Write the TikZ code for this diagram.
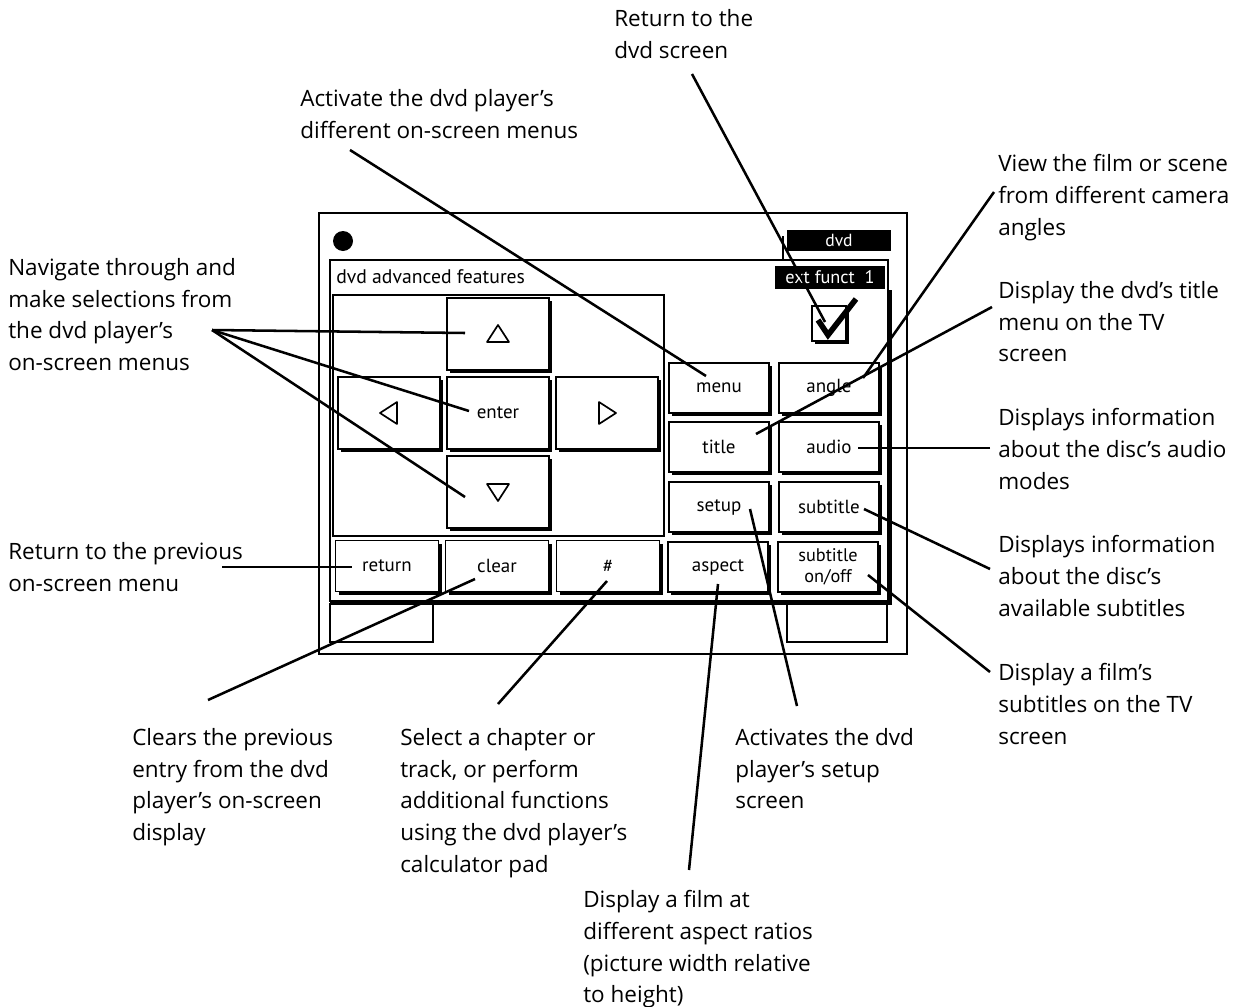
\documentclass[tikz,border=0pt]{standalone}
\usepackage{fontspec}
\setmainfont{Open Sans}
\newfontfamily\panelfont{PT Sans}
\usetikzlibrary{shadows}

\tikzset{
  note/.style={anchor=north west,align=left,inner sep=0pt,
    font=\fontsize{16}{22.6}\selectfont},
  lead/.style={line width=1.8pt},
  frame/.style={line width=0.9pt},
  btn/.style={draw,fill=white,line width=0.9pt,inner sep=0pt,
    minimum width=2.5cm,minimum height=1.25cm,align=center,
    font=\panelfont\fontsize{13.5}{13}\selectfont,
    drop shadow={shadow xshift=2.4pt,shadow yshift=-2.4pt,fill=black,opacity=1}},
  padbtn/.style={btn,minimum width=2.55cm,minimum height=1.8cm},
  rowbtn/.style={btn,minimum width=2.57cm,minimum height=1.28cm},
  tri/.style={line width=1.2pt,line join=round}
}

\begin{document}
\begin{tikzpicture}[x=0.025cm,y=-0.025cm]
  \useasboundingbox (0,0) rectangle (1242,1006);

  % window
  \draw[frame] (319,213) rectangle (907,654);
  \fill (343,241) circle (10);
  \fill (787,230) rectangle (891,251);
  \node[text=white,font=\panelfont\fontsize{12.5}{13}\selectfont] (tabDvd) at (839,240) {dvd};
  \draw[frame] (783,236) -- (783,260);
  \draw[frame] (330,260) rectangle (888,601);
  \draw[line width=3pt] (890,290) -- (890,603) -- (330,603);
  \draw[frame] (330,603) -- (330,642) -- (433,642) -- (433,603);
  \draw[frame] (787,603) -- (787,642) -- (887,642) -- (887,603);
  \node[anchor=west,inner sep=0pt,font=\panelfont\fontsize{14}{14}\selectfont] (panelTitle) at (336,277) {dvd advanced features};
  \fill (775,266) rectangle (885,289);
  \node[text=white,font=\panelfont\fontsize{13}{13}\selectfont] (extFunct) at (830,277) {ext funct\ \ 1};
  \draw[line width=1.2pt,fill=white,drop shadow={shadow xshift=2.4pt,shadow yshift=-2.4pt,fill=black,opacity=1}] (812,306) rectangle (846,341);
  \draw[line width=4pt] (818,320) -- (828,335) -- (856,299);

  % keypad
  \draw[frame] (333,295) rectangle (664,536);
  \node[padbtn] (btnUp) at (498,334) {};
  \node[padbtn] (btnLeft) at (389,413) {};
  \node[padbtn] (btnEnter) at (498,413) {enter};
  \node[padbtn] (btnRight) at (607,413) {};
  \node[padbtn] (btnDown) at (498,492) {};
  \draw[tri,shift={(btnUp.center)}] (-11,8) -- (11,8) -- (0,-9) -- cycle;
  \draw[tri,shift={(btnDown.center)}] (-11,-8) -- (11,-8) -- (0,9) -- cycle;
  \draw[tri,shift={(btnLeft.center)}] (8,-11) -- (8,11) -- (-9,0) -- cycle;
  \draw[tri,shift={(btnRight.center)}] (-8,-11) -- (-8,11) -- (9,0) -- cycle;

  \node[rowbtn] (btnReturn) at (387,566) {return};
  \node[rowbtn] (btnClear) at (497,566) {clear};
  \node[rowbtn] (btnHash) at (608,566) {\#};
  \node[btn] (btnAspect) at (718,567) {aspect};
  \node[btn,font=\panelfont\fontsize{13}{15}\selectfont] (btnSubOn) at (828,567) {subtitle\\on/off};
  \node[btn] (btnMenu) at (719,388) {menu};
  \node[btn] (btnAngle) at (829,388) {angle};
  \node[btn] (btnTitle) at (719,447) {title};
  \node[btn] (btnAudio) at (829,447) {audio};
  \node[btn] (btnSetup) at (719,507) {setup};
  \node[btn] (btnSubtitle) at (829,507) {subtitle};

  % notes
  \node[note] (nDvdScr) at (614,9) {Return to the\\dvd screen};
  \node[note] (nMenus) at (300,89) {Activate the dvd player's\\different on-screen menus};
  \node[note] (nNav) at (8,258) {Navigate through and\\make selections from\\the dvd player's\\on-screen menus};
  \node[note] (nReturn) at (8,542) {Return to the previous\\on-screen menu};
  \node[note] (nAngle) at (998,154) {View the film or scene\\from different camera\\angles};
  \node[note] (nTitle) at (998,281) {Display the dvd's title\\menu on the TV\\screen};
  \node[note] (nAudio) at (998,408) {Displays information\\about the disc's audio\\modes};
  \node[note] (nSubs) at (998,535) {Displays information\\about the disc's\\available subtitles};
  \node[note] (nSubOn) at (998,663) {Display a film's\\subtitles on the TV\\screen};
  \node[note] (nClear) at (132,728) {Clears the previous\\entry from the dvd\\player's on-screen\\display};
  \node[note] (nCalc) at (400,728) {Select a chapter or\\track, or perform\\additional functions\\using the dvd player's\\calculator pad};
  \node[note] (nSetup) at (735,728) {Activates the dvd\\player's setup\\screen};
  \node[note] (nAspect) at (583,890) {Display a film at\\different aspect ratios\\(picture width relative\\to height)};

  % leader ends
  \coordinate (cDvdScr) at (692,74);
  \coordinate (cCheck) at (825,322);
  \coordinate (cMenus) at (350,150);
  \coordinate (cMenu) at (706,376);
  \coordinate (cNav) at (212,330);
  \coordinate (cUp) at (465,333);
  \coordinate (cEnter) at (469,411);
  \coordinate (cDown) at (465,497);
  \coordinate (cAngleN) at (994,192);
  \coordinate (cAngle) at (863,378);
  \coordinate (cTitleN) at (992,307);
  \coordinate (cTitle) at (756,434);
  \coordinate (cAudioN) at (990,448);
  \coordinate (cAudio) at (858,448);
  \coordinate (cSubsN) at (990,569);
  \coordinate (cSubs) at (864,509);
  \coordinate (cSubOnN) at (990,672);
  \coordinate (cSubOn) at (868,575);
  \coordinate (cReturnN) at (222,567);
  \coordinate (cReturn) at (352,567);
  \coordinate (cClearN) at (208,700);
  \coordinate (cClear) at (475,579);
  \coordinate (cCalcN) at (498,704);
  \coordinate (cHash) at (607,581);
  \coordinate (cAspectN) at (689,870);
  \coordinate (cAspect) at (718,584);
  \coordinate (cSetupN) at (797,706);
  \coordinate (cSetup) at (750,509);

  \draw[lead] (cDvdScr) -- (cCheck);
  \draw[lead] (cMenus) -- (cMenu);
  \foreach \t in {cUp,cEnter,cDown} \draw[lead] (cNav) -- (\t);
  \draw[lead] (cAngleN) -- (cAngle);
  \draw[lead] (cTitleN) -- (cTitle);
  \draw[lead] (cAudioN) -- (cAudio);
  \draw[lead] (cSubsN) -- (cSubs);
  \draw[lead] (cSubOnN) -- (cSubOn);
  \draw[lead] (cReturnN) -- (cReturn);
  \draw[lead] (cClearN) -- (cClear);
  \draw[lead] (cCalcN) -- (cHash);
  \draw[lead] (cAspectN) -- (cAspect);
  \draw[lead] (cSetupN) -- (cSetup);
\end{tikzpicture}
\end{document}
